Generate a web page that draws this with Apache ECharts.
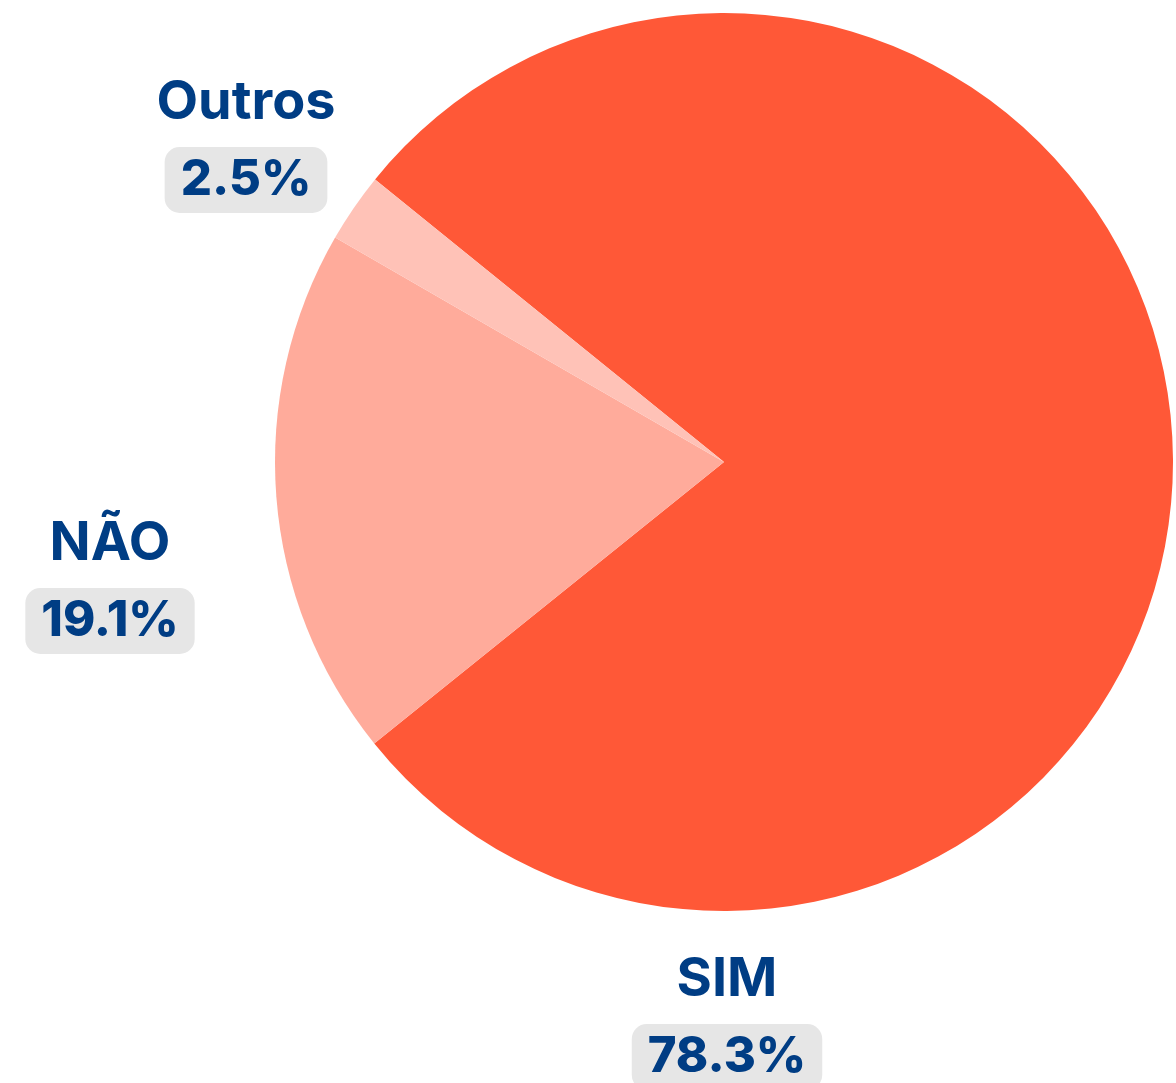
<!DOCTYPE html>
<html>
<head>
<meta charset="utf-8">
<script src="https://cdn.jsdelivr.net/npm/echarts@6/dist/echarts.min.js"></script>
<style>
  html, body { margin: 0; padding: 0; background: #fff; }
  #chart { width: 1176px; height: 1083px; }
</style>
</head>
<body>
<div id="chart"></div>
<script>
const categories = ['SIM', 'NÃO', 'Outros']
const values = [78.3, 19.1, 2.5]
const colors = ['#ff5837', '#ffab9b', '#ffc2b7']

// where each label block sits (centre of the two-line block)
const labelSpots = [
  { x: 727, y: 1010 },
  { x: 110, y: 574 },
  { x: 246, y: 133 },
]

const chart = echarts.init(document.getElementById('chart'))

chart.setOption({
  animation: false,
  textStyle: { fontFamily: 'Inter' },
  series: [
    {
      type: 'pie',
      center: [724, 462],
      radius: [0, 449],
      startAngle: 141,
      clockwise: true,
      silent: true,
      avoidLabelOverlap: false,
      data: categories.map((name, i) => ({
        name,
        value: values[i],
        itemStyle: { color: colors[i] },
      })),
      labelLine: { show: false },
      label: {
        show: true,
        position: 'outside',
        overflow: 'none',
        formatter: (p) => `{name|${p.name}}\n{val|${p.value.toFixed(1)}%}`,
        rich: {
          name: {
            fontFamily: 'Inter',
            fontWeight: 700,
            fontSize: 54,
            color: '#003d84',
            lineHeight: 94,
            align: 'center',
          },
          val: {
            fontFamily: 'Inter',
            fontWeight: 800,
            fontSize: 49,
            color: '#003d84',
            lineHeight: 60,
            height: 60,
            backgroundColor: '#e6e6e6',
            borderRadius: 15,
            padding: [3, 16],
            align: 'center',
          },
        },
      },
      labelLayout: (params) => ({
        x: labelSpots[params.dataIndex].x,
        y: labelSpots[params.dataIndex].y,
        align: 'center',
        verticalAlign: 'middle',
        hideOverlap: false,
        moveOverlap: null,
      }),
    },
  ],
})
</script>
</body>
</html>
